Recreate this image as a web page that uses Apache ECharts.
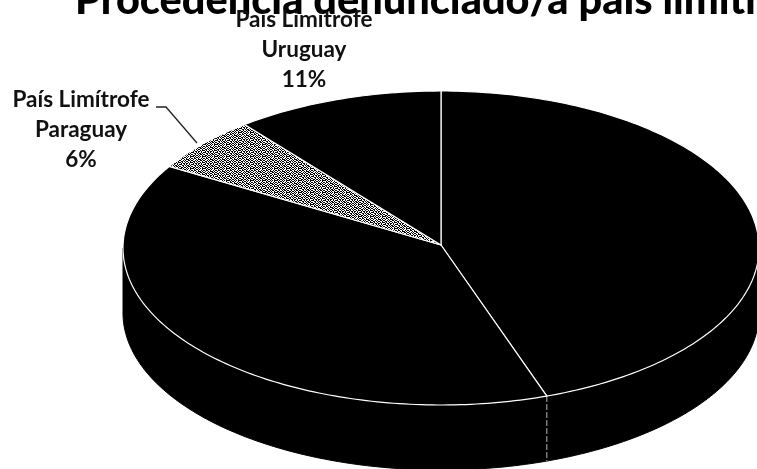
<!DOCTYPE html>
<html>
<head>
<meta charset="utf-8">
<style>html,body{margin:0;padding:0;background:#fff;overflow:hidden}#c{width:757px;height:469px}</style>
<script src="https://cdn.jsdelivr.net/npm/echarts@6/dist/echarts.min.js"></script>
</head>
<body>
<div id="c"></div>
<script>
var titleText = 'Procedencia denunciado/a país limítrofe';
var categories = ['Argentina', 'Otros', 'País Limítrofe Paraguay', 'País Limítrofe Uruguay'];
var shares = [44.6, 39.1, 5.7, 10.6];
var sliceColors = ['#000000', '#000000', 'stipple', '#000000'];
var labelLines = [['País Limítrofe', 'Uruguay', '11%'], ['País Limítrofe', 'Paraguay', '6%']];

var FONT = 'Lato, Carlito, sans-serif';
var CX = 441, CY = 248, RX = 318, RY = 157, HUBY = 245, DEPTH = 65;
var total = shares.reduce(function (a, b) { return a + b; }, 0);

function stipple() {
  var n = 6, cv = document.createElement('canvas');
  cv.width = n * 2; cv.height = n * 2;
  var g = cv.getContext('2d');
  g.fillStyle = '#fff'; g.fillRect(0, 0, cv.width, cv.height);
  g.fillStyle = '#000';
  var on = ['110100101011', '001011010010', '101100100101', '010010111010', '100101001101', '011010110010',
            '101001001011', '010110110100', '110010100101', '001101011010', '100100101101', '011011010010'];
  on.forEach(function (row, y) {
    row.split('').forEach(function (c, x) { if (c === '1') g.fillRect(x, y, 1, 1); });
  });
  return { image: cv, repeat: 'repeat' };
}
var stippleFill = stipple();

function rim(deg, dy) {
  var t = deg * Math.PI / 180;
  return [CX + RX * Math.sin(t), CY - RY * Math.cos(t) + (dy || 0)];
}
function arc(a0, a1, dy) {
  var pts = [], d = a0;
  for (; d < a1; d += 1) pts.push(rim(d, dy));
  pts.push(rim(a1, dy));
  return pts;
}

function renderItem(params, api) {
  var i = params.dataIndex, before = 0;
  for (var k = 0; k < i; k++) before += shares[k];
  var a0 = before / total * 360, a1 = (before + api.value(0)) / total * 360;
  var children = [];
  var w0 = Math.max(a0, 90), w1 = Math.min(a1, 270);
  if (w1 > w0) {
    var wall = arc(w0, w1, 0).concat(arc(w0, w1, DEPTH).reverse());
    children.push({ type: 'polygon', z2: 1, shape: { points: wall },
      style: { fill: '#000', stroke: '#000', lineWidth: 1 } });
    if (a0 >= 90 && a0 <= 270) {
      var p = rim(a0, 0);
      children.push({ type: 'line', z2: 2, shape: { x1: p[0], y1: p[1], x2: p[0], y2: p[1] + DEPTH },
        style: { stroke: '#b5b5b5', lineWidth: 1, lineDash: [6, 2] } });
    }
  }
  var top = [[CX, HUBY]].concat(arc(a0, a1, 0));
  var fill = sliceColors[i] === 'stipple' ? stippleFill : sliceColors[i];
  children.push({ type: 'polygon', z2: 3, shape: { points: top },
    style: { fill: fill, stroke: '#fff', lineWidth: 1.2, lineJoin: 'round' } });
  return { type: 'group', children: children };
}

var labelSpots = [[304, 5], [81, 85]];
var graphics = labelLines.map(function (lines, i) {
  return { type: 'text', x: labelSpots[i][0], y: labelSpots[i][1], z: 10,
    style: { text: lines.join('\n'), fill: '#111', font: 'bold 22.5px ' + FONT,
      textAlign: 'center', textVerticalAlign: 'top', lineHeight: 30 } };
});
graphics.push({ type: 'polyline', z: 10, shape: { points: [[156, 107], [166, 107], [197, 143]] },
  style: { stroke: '#222', lineWidth: 1.3, fill: null } });

var chart = echarts.init(document.getElementById('c'), null, { renderer: 'canvas' });
chart.setOption({
  animation: false,
  backgroundColor: '#fff',
  title: { text: titleText, left: 70, top: -25,
    textStyle: { fontFamily: FONT, fontWeight: 900, fontSize: 41.5, color: '#000' } },
  graphic: graphics,
  series: [{
    type: 'custom',
    coordinateSystem: 'none',
    renderItem: renderItem,
    clip: false,
    data: shares.map(function (v, i) { return { name: categories[i], value: [v] }; })
  }]
});
</script>
</body>
</html>
